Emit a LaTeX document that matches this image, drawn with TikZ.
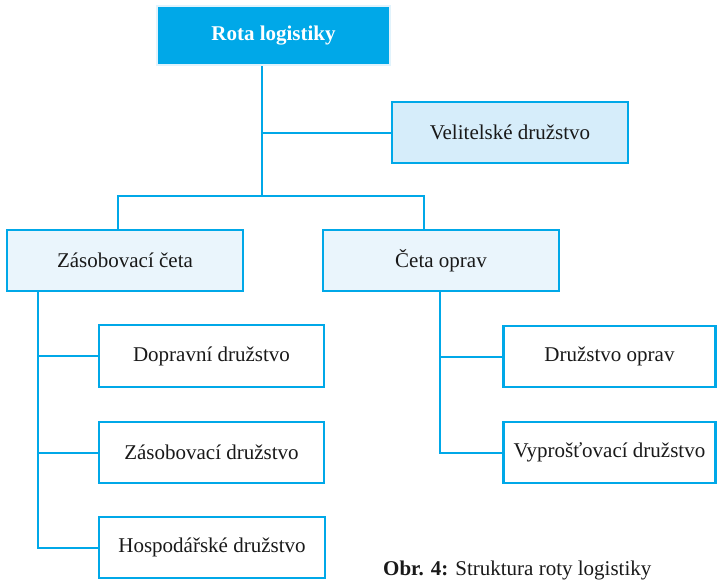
\documentclass[tikz,border=0pt]{standalone}
\usepackage{fontspec}
\setmainfont{Liberation Serif}
\definecolor{lineblue}{RGB}{0,168,232}
\definecolor{headfill}{RGB}{0,168,232}
\definecolor{halo}{RGB}{225,243,252}
\definecolor{cmdfill}{RGB}{214,237,250}
\definecolor{platfill}{RGB}{234,245,252}
\definecolor{ink}{RGB}{25,25,25}
\tikzset{
  unit/.style={draw=lineblue, line width=2.2pt, rectangle, inner sep=0pt,
    text=ink, font=\fontsize{21}{25}\selectfont, fill=white},
  head/.style={unit, draw=halo, line width=2.5pt, fill=headfill, text=white,
    font=\fontsize{21}{25}\selectfont\bfseries},
  cmd/.style={unit, fill=cmdfill},
  plat/.style={unit, fill=platfill},
  link/.style={draw=lineblue, line width=2pt}
}
\begin{document}
\begin{tikzpicture}[x=1pt, y=-1pt]
\useasboundingbox (0,0) rectangle (717,579);

% boxes
\node[head, minimum width=233pt, minimum height=59pt] (rota) at (273.5,35.5) {Rota logistiky};
\node[cmd,  minimum width=236pt, minimum height=61pt] (vel)  at (510,132.5) {Velitelské družstvo};
\node[plat, minimum width=236pt, minimum height=61pt] (zc)   at (125,260.5) {Zásobovací četa};
\node[plat, minimum width=236pt, minimum height=61pt] (co)   at (441,260.5) {Četa oprav};
\node[unit, minimum width=225pt, minimum height=62pt] (dop)  at (211.5,356) {Dopravní družstvo};
\node[unit, minimum width=225pt, minimum height=61pt] (zd)   at (211.5,452.5) {Zásobovací družstvo};
\node[unit, minimum width=226pt, minimum height=61pt] (hd)   at (212,547.5) {Hospodářské družstvo};
\node[unit, minimum width=212pt, minimum height=61pt] (dro)  at (609.5,356.5) {Družstvo oprav};
\node[unit, minimum width=212pt, minimum height=61pt] (vyp)  at (609.5,452.5) {Vyprošťovací družstvo};

% junction points
\coordinate (trunk) at (262,196);
\coordinate (jl) at (118,196);
\coordinate (jr) at (424,196);
\coordinate (sl) at (38,0);
\coordinate (sr) at (440,0);

% connectors
\draw[link] (rota.south -| trunk) -- (trunk);
\draw[link] (vel.west -| trunk) -- (vel.west);
\draw[link] (jl |- zc.north) -- (jl) -- (jr) -- (jr |- co.north);
\draw[link] (sl |- zc.south) -- (sl |- hd.west) -- (hd.west);
\draw[link] (sl |- dop.west) -- (dop.west);
\draw[link] (sl |- zd.west) -- (zd.west);
\draw[link] (sr |- co.south) -- (sr |- vyp.west) -- (vyp.west);
\draw[link] (sr |- dro.west) -- (dro.west);

% caption
\node[anchor=base west, inner sep=0pt, text=ink, font=\fontsize{21}{25}\selectfont] (cap) at (383,575)
  {\textbf{Obr. 4:} Struktura roty logistiky};
\end{tikzpicture}
\end{document}
